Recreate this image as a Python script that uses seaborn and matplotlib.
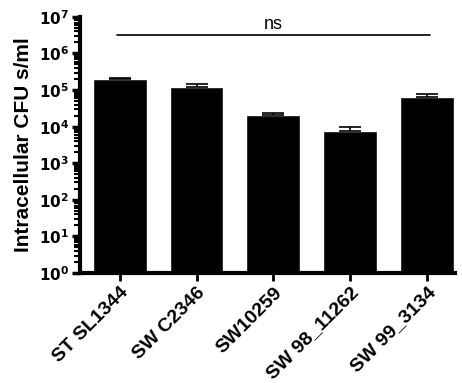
import numpy as np
import pandas as pd
import matplotlib
matplotlib.use("Agg")
import matplotlib.pyplot as plt
import seaborn as sns
from matplotlib.ticker import LogLocator, FixedLocator, NullFormatter

# ── data ────────────────────────────────────────────────────────────────
strains = ["ST SL1344", "SW C2346", "SW10259", "SW 98_11262", "SW 99_3134"]
cfu_mean = [2.0e5, 1.2e5, 2.1e4, 7.8e3, 6.5e4]
cfu_err = [0.2e5, 0.25e5, 0.3e4, 1.7e3, 1.2e4]
sig_label = "ns"

df = pd.DataFrame({"strain": strains, "cfu": cfu_mean})

sns.set_style("ticks", {"axes.edgecolor": "black", "xtick.color": "black",
                        "ytick.color": "black", "text.color": "black",
                        "axes.labelcolor": "black"})
plt.rcParams["font.family"] = ["Liberation Sans", "DejaVu Sans"]
plt.rcParams["font.weight"] = "bold"

fig = plt.figure(figsize=(4.62, 3.83), dpi=100)
ax = fig.add_axes([0.173, 0.287, 0.812, 0.669])

sns.barplot(data=df, x="strain", y="cfu", color="black", width=0.7,
            errorbar=None, ax=ax, saturation=1)
ax.errorbar(range(len(strains)), cfu_mean,
            yerr=[np.zeros(len(cfu_err)), cfu_err],
            fmt="none", ecolor="black", elinewidth=1.2, capsize=8, capthick=1.2)

ax.set_yscale("log")
ax.set_ylim(1, 1e7)
ax.set_xlim(-0.52, 4.37)

ax.yaxis.set_major_locator(FixedLocator([10.0 ** k for k in range(8)]))
ax.yaxis.set_minor_locator(LogLocator(base=10, subs=np.arange(2, 10), numticks=20))
ax.yaxis.set_minor_formatter(NullFormatter())
ax.set_yticklabels([f"$\\mathbf{{10^{{{k}}}}}$" for k in range(8)])

sns.despine(ax=ax)
for side in ["left", "bottom"]:
    ax.spines[side].set_linewidth(3)
ax.tick_params(axis="y", which="major", length=6, width=2.5, labelsize=11, pad=2)
ax.tick_params(axis="y", which="minor", length=4, width=1.5)
ax.tick_params(axis="x", length=6, width=2, labelsize=14, pad=2)
plt.setp(ax.get_xticklabels(), rotation=45, ha="right", rotation_mode="anchor",
         fontweight="bold")

ax.set_xlabel("")
ax.set_ylabel("Intracellular CFU s/ml", fontsize=15, fontweight="bold", labelpad=4)

# significance bar across all strains
ax.plot([-0.04, 4.04], [3.2e6, 3.2e6], color="black", lw=1.2, clip_on=False)
ax.text(2, 6.2e6, sig_label, ha="center", va="center", fontsize=13,
        fontweight="normal")

fig.savefig("out.png", dpi=100)
